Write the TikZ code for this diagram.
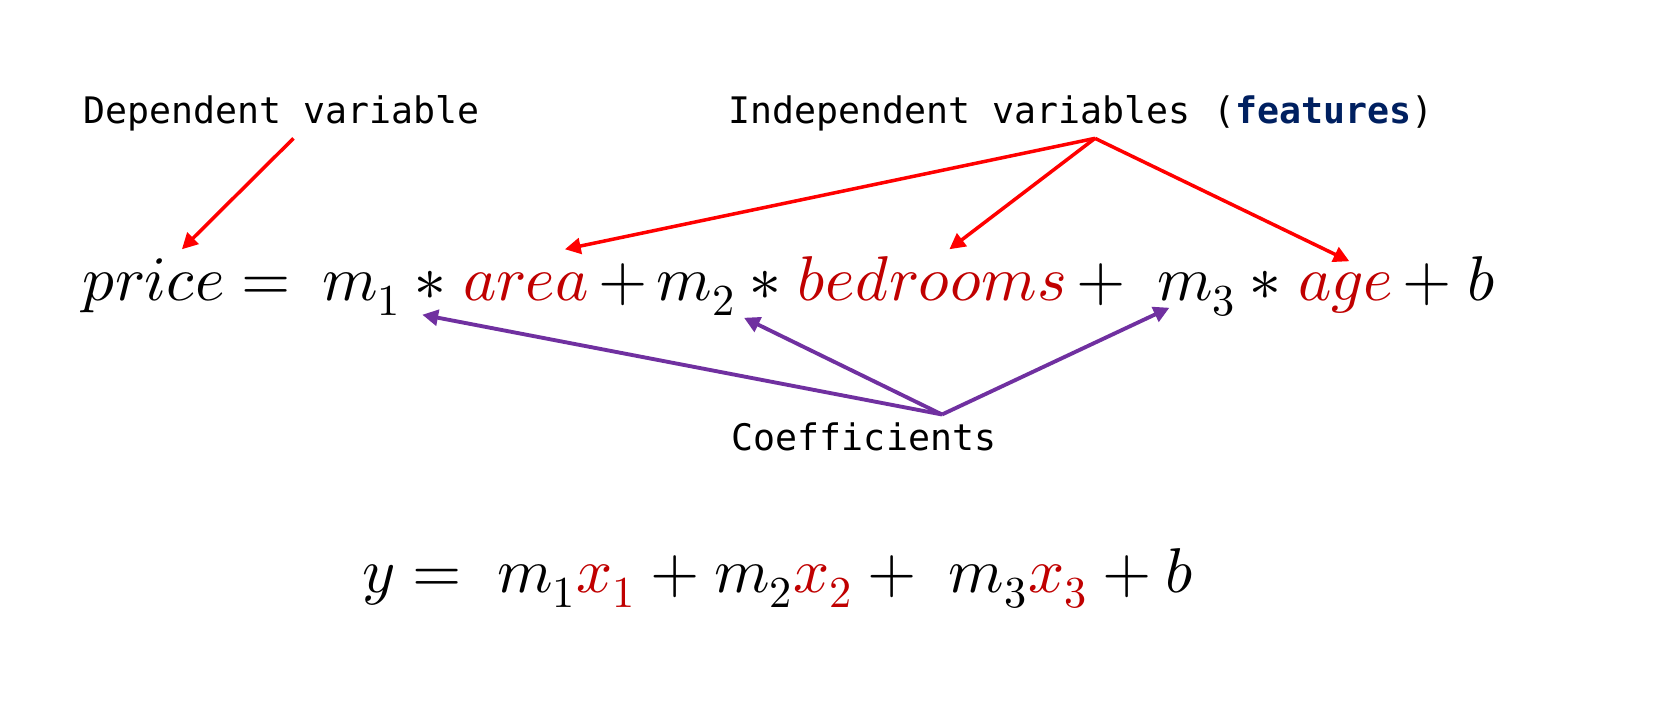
\documentclass[tikz,border=0pt]{standalone}
\usepackage{fontspec}
\usepackage{unicode-math}
\setmathfont{Latin Modern Math}
\setmonofont{DejaVu Sans Mono}
\usetikzlibrary{arrows.meta,positioning}
\definecolor{featred}{RGB}{192,0,0}
\definecolor{coefpurple}{RGB}{112,48,160}
\definecolor{featblue}{RGB}{0,32,96}
\tikzset{
  note/.style={font=\ttfamily\fontsize{10.4}{12}\selectfont, inner sep=2pt, anchor=base},
  term/.style={font=\fontsize{18}{22}\selectfont, inner xsep=0pt, inner ysep=2pt, text height=0.43cm, text depth=0.14cm},
  feat arrow/.style={-{Triangle[length=4.5pt,width=4.5pt]}, red, line width=1pt},
  coef arrow/.style={-{Triangle[length=4.5pt,width=4.5pt]}, coefpurple, line width=1.1pt}
}
\begin{document}
\begin{tikzpicture}
    \path [fill=white] (0,0) rectangle (16.8,7.18);

    % labels
    \node [note] (dep) at (2.815,5.95) {Dependent variable};
    \node [note] (indep) at (10.81,5.95) {Independent variables (\textbf{\color{featblue}features})};
    \node [note] (coef) at (8.64,2.68) {Coefficients};

    % price = m1*area + m2*bedrooms + m3*age + b
    \node [term, anchor=base west] (price) at (0.82,4.18) {$price$};
    \node [term, base right=0.15cm of price] (eqsign) {$=$};
    \node [term, base right=0.3cm of eqsign] (m1) {$m_1$};
    \node [term, base right=0.12cm of m1] (times1) {$*$};
    \node [term, base right=0.15cm of times1, text=featred] (area) {$area$};
    \node [term, base right=0.08cm of area] (plus1) {$+$};
    \node [term, base right=0.08cm of plus1] (m2) {$m_2$};
    \node [term, base right=0.12cm of m2] (times2) {$*$};
    \node [term, base right=0.15cm of times2, text=featred] (bedrooms) {$bedrooms$};
    \node [term, base right=0.08cm of bedrooms] (plus2) {$+$};
    \node [term, base right=0.3cm of plus2] (m3) {$m_3$};
    \node [term, base right=0.12cm of m3] (times3) {$*$};
    \node [term, base right=0.15cm of times3, text=featred] (age) {$age$};
    \node [term, base right=0.08cm of age] (plus3) {$+$};
    \node [term, base right=0.15cm of plus3] (bias) {$b$};

    % short form
    \node [term, anchor=base] (short) at (7.78,1.26) {$y=\; m_1{\color{featred}x_1}+m_2{\color{featred}x_2}+\; m_3{\color{featred}x_3}+b$};

    \draw [feat arrow] ([xshift=0.12cm]dep.south) -- ([xshift=0.28cm]price.north);
    \draw [feat arrow] ([xshift=0.14cm]indep.south) -- ([xshift=0.39cm]area.north);
    \draw [feat arrow] ([xshift=0.14cm]indep.south) -- ([xshift=0.17cm]bedrooms.north);
    \draw [feat arrow] ([xshift=0.14cm]indep.south) -- ([xshift=0.04cm,yshift=-0.12cm]age.north);

    \draw [coef arrow] ([xshift=0.78cm]coef.north) -- ([xshift=0.2cm,yshift=0.07cm]m1.south east);
    \draw [coef arrow] ([xshift=0.78cm]coef.north) -- ([xshift=0.07cm,yshift=0.04cm]m2.south east);
    \draw [coef arrow] ([xshift=0.78cm]coef.north) -- ([xshift=0.13cm,yshift=0.14cm]m3.south west);
\end{tikzpicture}
\end{document}
